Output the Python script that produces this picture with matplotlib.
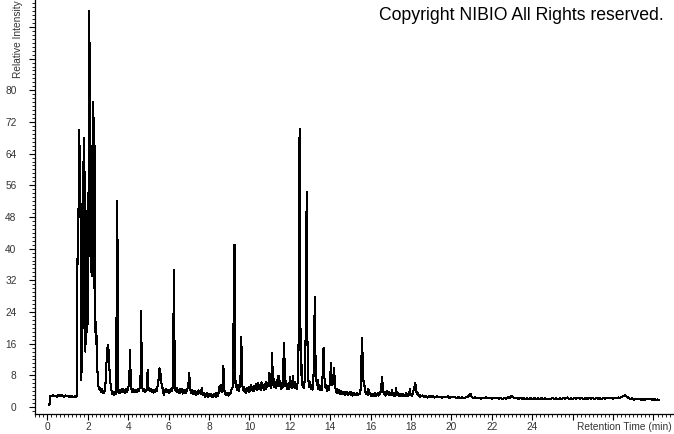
import matplotlib
matplotlib.use("Agg")
import matplotlib.pyplot as plt
from matplotlib.ticker import MultipleLocator

plt.rcParams['font.family'] = ['Liberation Sans', 'DejaVu Sans']

# chromatogram: (retention time [min], relative intensity)
start_run = [
    (0.10, 0.6), (0.12, 2.4), (0.16, 2.9), (0.22, 2.7), (0.28, 3.0), (0.34, 2.8),
    (0.40, 2.9), (0.46, 2.6), (0.52, 3.0), (0.58, 2.8), (0.64, 3.1), (0.70, 2.7),
    (0.76, 2.9), (0.82, 2.6), (0.88, 2.9), (0.94, 2.7), (1.00, 2.8), (1.06, 2.5),
    (1.12, 2.8), (1.18, 2.6), (1.24, 2.7), (1.30, 2.5), (1.36, 2.8), (1.42, 2.6),
    (1.47, 2.8),
]

main_cluster = [
    (1.48, 37.5), (1.51, 36), (1.53, 50), (1.55, 48), (1.58, 70), (1.60, 52),
    (1.62, 66), (1.64, 48), (1.665, 6.8), (1.69, 9), (1.72, 28), (1.75, 20),
    (1.78, 62), (1.80, 45), (1.83, 68), (1.85, 28), (1.88, 14), (1.90, 24),
    (1.93, 49.5), (1.95, 30), (1.98, 19), (2.01, 40), (2.04, 58), (2.06, 100),
    (2.08, 70), (2.09, 92), (2.11, 38), (2.13, 40), (2.15, 34), (2.17, 38),
    (2.19, 33), (2.21, 36), (2.24, 77), (2.26, 40), (2.28, 58), (2.30, 30),
    (2.32, 73), (2.34, 58), (2.36, 57), (2.38, 19), (2.41, 16), (2.44, 18),
    (2.47, 10), (2.50, 6), (2.53, 5.2), (2.57, 4.4), (2.61, 4.9), (2.65, 3.8),
    (2.69, 4.5), (2.73, 3.5), (2.77, 4.1),
]

early_peaks = [
    (2.81, 3.6), (2.85, 4.3), (2.88, 6.5), (2.92, 11), (2.95, 13), (2.98, 15.6),
    (3.01, 13.5), (3.04, 14.5), (3.07, 9.5), (3.10, 7), (3.14, 5.2), (3.18, 4.0),
    (3.22, 3.2), (3.26, 3.9), (3.30, 3.0), (3.34, 3.7), (3.38, 3.3), (3.41, 5),
    (3.43, 40), (3.45, 52), (3.47, 41), (3.49, 6), (3.52, 3.6), (3.56, 4.2),
    (3.60, 3.5), (3.64, 4.4), (3.68, 3.8), (3.72, 4.6), (3.76, 3.9), (3.80, 4.3),
    (3.84, 3.6), (3.88, 4.5), (3.92, 3.7), (3.96, 4.1), (4.00, 4.8), (4.04, 6),
    (4.07, 10), (4.09, 14.4), (4.11, 9), (4.13, 5), (4.17, 4.2), (4.21, 3.8),
    (4.25, 4.6), (4.29, 3.9), (4.33, 4.4), (4.37, 3.7), (4.41, 4.2), (4.45, 3.9),
    (4.49, 4.6), (4.53, 4.0), (4.57, 5), (4.61, 8), (4.63, 24.2), (4.65, 20),
    (4.67, 7), (4.70, 4.8), (4.74, 4.0), (4.78, 4.5), (4.82, 3.8), (4.86, 4.4),
    (4.90, 4.0), (4.93, 5.5), (4.96, 9.3), (4.98, 6), (5.01, 4.2), (5.05, 4.7),
    (5.09, 4.0), (5.13, 4.5), (5.17, 3.8), (5.21, 4.3), (5.25, 3.6), (5.29, 4.4),
    (5.33, 3.9), (5.37, 4.6), (5.41, 4.1), (5.45, 5.2), (5.49, 6.5), (5.52, 7.5),
    (5.55, 9.8), (5.58, 7), (5.61, 8.3), (5.64, 6), (5.68, 5.2), (5.72, 4.2),
    (5.76, 3.0), (5.80, 4.4), (5.84, 3.7), (5.88, 4.5), (5.92, 3.9), (5.96, 4.3),
    (6.00, 3.6), (6.04, 4.4), (6.08, 3.8), (6.12, 4.6), (6.16, 4.0), (6.20, 5),
    (6.23, 12), (6.25, 32), (6.27, 34.6), (6.29, 16), (6.31, 6), (6.34, 4.2),
    (6.38, 3.9), (6.42, 4.8), (6.46, 3.7), (6.50, 4.3), (6.54, 3.5), (6.58, 4.5),
    (6.62, 3.8), (6.66, 4.6), (6.70, 3.4), (6.74, 4.2), (6.78, 3.6), (6.82, 4.4),
    (6.86, 3.5), (6.90, 4.3), (6.94, 4.8), (6.98, 6), (7.02, 8.6), (7.05, 5.5),
    (7.08, 4.2), (7.12, 3.5), (7.16, 4.3), (7.20, 3.2), (7.24, 4.0), (7.28, 3.4),
    (7.32, 4.1), (7.36, 3.1), (7.40, 3.9), (7.44, 3.3), (7.48, 4.2), (7.52, 3.6),
]

mid_peaks = [
    (7.56, 4.0), (7.60, 3.3), (7.64, 4.8), (7.68, 3.5), (7.72, 3.0), (7.76, 3.6),
    (7.80, 2.6), (7.84, 3.4), (7.88, 2.8), (7.92, 3.5), (7.96, 2.5), (8.00, 3.2),
    (8.04, 2.7), (8.08, 3.4), (8.12, 2.6), (8.16, 3.1), (8.20, 2.4), (8.24, 3.3),
    (8.28, 2.7), (8.32, 3.5), (8.36, 2.6), (8.40, 3.2), (8.44, 2.9), (8.48, 3.8),
    (8.52, 5.2), (8.56, 4.1), (8.60, 5.5), (8.64, 3.9), (8.68, 5), (8.71, 10.3),
    (8.74, 6), (8.77, 3.6), (8.81, 3.1), (8.85, 3.6), (8.89, 3.0), (8.93, 3.5),
    (8.97, 2.9), (9.01, 3.6), (9.05, 3.2), (9.09, 4.2), (9.13, 4.6), (9.17, 5),
    (9.20, 11), (9.23, 37), (9.26, 41), (9.28, 20), (9.31, 6), (9.35, 5.2),
    (9.39, 4.3), (9.43, 5.5), (9.47, 4.0), (9.51, 5.0), (9.55, 6), (9.58, 13),
    (9.60, 17.7), (9.62, 9), (9.65, 5.5), (9.68, 4.3),
]

late_peaks = [
    (9.72, 5.0), (9.76, 3.9), (9.80, 4.6), (9.84, 3.6), (9.88, 4.8), (9.92, 4.0),
    (9.96, 5.1), (10.00, 3.8), (10.04, 4.7), (10.08, 5.6), (10.12, 4.2), (10.16, 5.0),
    (10.20, 4.0), (10.24, 5.4), (10.28, 4.5), (10.32, 5.8), (10.36, 4.3), (10.40, 5.2),
    (10.44, 6.0), (10.48, 4.6), (10.52, 5.4), (10.56, 4.4), (10.60, 6.2), (10.64, 4.8),
    (10.68, 5.6), (10.72, 4.2), (10.76, 5.9), (10.80, 4.6), (10.84, 6.4), (10.88, 5.0),
    (10.92, 6.0), (10.96, 5.2), (10.99, 8.6), (11.02, 5.5), (11.06, 4.8), (11.09, 7),
    (11.12, 13.6), (11.14, 10), (11.17, 5.5), (11.20, 7), (11.24, 5.0), (11.28, 6.3),
    (11.32, 4.8), (11.36, 6.8), (11.40, 5.2), (11.44, 7.9), (11.47, 5.6), (11.51, 6.5),
    (11.55, 4.6), (11.59, 6.0), (11.63, 4.7), (11.66, 6.5), (11.69, 13), (11.72, 16.2),
    (11.75, 8), (11.78, 5.2), (11.82, 6.6), (11.86, 4.6), (11.90, 5.8), (11.94, 4.5),
    (11.98, 6.0), (12.02, 7.6), (12.05, 5.0), (12.09, 6.2), (12.13, 4.8), (12.16, 7.8),
    (12.19, 5.5), (12.23, 6.4), (12.27, 4.7), (12.31, 5.8), (12.35, 4.6), (12.39, 6.5),
    (12.42, 9), (12.45, 31), (12.48, 70.2), (12.50, 68), (12.52, 25), (12.54, 8),
    (12.57, 11), (12.60, 9), (12.63, 5.0), (12.67, 6.0), (12.71, 4.7), (12.74, 8),
    (12.77, 14.9), (12.80, 25), (12.83, 54.3), (12.85, 45), (12.87, 18), (12.89, 7),
    (12.93, 6.5), (12.97, 5.0), (13.00, 6.2), (13.04, 4.6), (13.08, 5.6), (13.12, 4.4),
    (13.16, 6.5), (13.20, 12), (13.23, 27.8), (13.25, 27), (13.27, 12), (13.30, 8),
    (13.33, 5.5), (13.37, 6.8), (13.41, 4.5), (13.45, 5.6), (13.49, 4.2), (13.53, 5.4),
    (13.57, 4.3), (13.61, 6), (13.64, 13), (13.67, 14.9), (13.70, 8), (13.73, 6.5),
    (13.77, 4.8), (13.81, 5.6), (13.85, 4.0), (13.89, 5.2), (13.93, 4.2), (13.97, 5.8),
    (14.01, 9), (14.04, 11), (14.07, 7), (14.10, 5.5), (14.14, 6.5), (14.18, 9.8),
    (14.21, 8), (14.24, 5), (14.28, 4.4), (14.32, 3.6), (14.36, 4.5), (14.40, 3.5),
]

after_peaks = [
    (14.44, 4.2), (14.48, 3.3), (14.52, 4.0), (14.56, 3.4), (14.60, 3.9), (14.64, 3.2),
    (14.68, 3.8), (14.72, 3.1), (14.76, 3.7), (14.80, 3.3), (14.84, 3.9), (14.88, 3.0),
    (14.92, 3.6), (14.96, 3.2), (15.00, 3.8), (15.04, 3.1), (15.08, 3.5), (15.12, 2.9),
    (15.16, 3.6), (15.20, 3.0), (15.24, 3.4), (15.28, 3.1), (15.32, 3.6), (15.36, 3.0),
    (15.40, 3.4), (15.44, 3.2), (15.48, 3.8), (15.52, 5), (15.55, 13.6), (15.58, 17.4),
    (15.60, 12), (15.62, 8), (15.65, 6.3), (15.69, 5.5), (15.73, 4.0), (15.77, 3.3),
    (15.81, 3.8), (15.85, 3.0), (15.89, 4.6), (15.93, 3.2), (15.97, 3.6), (16.01, 2.8),
    (16.05, 3.4), (16.09, 2.7), (16.13, 3.3), (16.17, 2.9), (16.21, 3.5), (16.25, 2.8),
    (16.29, 3.4), (16.33, 3.0), (16.37, 3.6), (16.41, 2.9), (16.45, 3.3), (16.49, 3.8),
    (16.53, 5.5), (16.56, 7.6), (16.59, 6), (16.62, 4.2), (16.66, 3.2), (16.70, 3.8),
    (16.74, 2.9), (16.78, 3.4), (16.82, 4.0), (16.86, 3.2), (16.90, 3.7), (16.94, 2.9),
    (16.98, 3.6), (17.02, 3.0), (17.06, 4.2), (17.10, 3.1), (17.14, 3.5), (17.18, 2.8),
    (17.22, 3.4), (17.26, 4.8), (17.30, 3.0), (17.34, 3.6), (17.38, 2.8), (17.42, 3.3),
    (17.46, 2.7), (17.50, 3.2), (17.54, 2.8), (17.58, 3.4), (17.62, 2.7), (17.66, 3.1),
    (17.70, 2.8), (17.74, 3.5), (17.78, 2.9), (17.82, 3.2), (17.86, 2.7), (17.90, 3.3),
    (17.94, 4.5), (17.97, 3.0), (18.01, 3.4), (18.05, 2.8), (18.09, 3.6), (18.13, 4.4),
    (18.17, 5.2), (18.20, 6.0), (18.23, 5.5), (18.26, 4.0), (18.30, 3.2), (18.34, 3.6),
    (18.38, 2.7), (18.42, 3.1),
]

tail_run = [
    (18.46, 2.6), (18.55, 2.9), (18.64, 2.5), (18.73, 2.8), (18.82, 2.4), (18.91, 2.7),
    (19.00, 2.5), (19.09, 2.8), (19.18, 2.4), (19.27, 2.7), (19.36, 2.4), (19.45, 2.6),
    (19.54, 2.3), (19.63, 2.6), (19.72, 2.4), (19.81, 2.7), (19.90, 2.3), (19.99, 2.6),
    (20.08, 2.4), (20.17, 2.5), (20.26, 2.2), (20.35, 2.5), (20.44, 2.3), (20.53, 2.5),
    (20.62, 2.2), (20.71, 2.4), (20.80, 2.5), (20.88, 3.0), (20.94, 3.3), (21.00, 2.6),
    (21.08, 2.3), (21.17, 2.5), (21.26, 2.2), (21.35, 2.4), (21.44, 2.1), (21.53, 2.4),
    (21.62, 2.2), (21.71, 2.5), (21.80, 2.2), (21.89, 2.4), (21.98, 2.1), (22.07, 2.3),
    (22.16, 2.2), (22.25, 2.4), (22.34, 2.1), (22.43, 2.3), (22.52, 2.0), (22.61, 2.3),
    (22.70, 2.1), (22.79, 2.4), (22.88, 2.3), (22.96, 2.7), (23.04, 2.6), (23.12, 2.2),
    (23.21, 2.4), (23.30, 2.0), (23.39, 2.3), (23.48, 2.1), (23.57, 2.2), (23.66, 1.9),
    (23.75, 2.2), (23.84, 2.0), (23.93, 2.3), (24.02, 2.0), (24.11, 2.2), (24.20, 1.9),
    (24.29, 2.2), (24.38, 2.0), (24.47, 2.3), (24.56, 2.0), (24.65, 2.2), (24.74, 1.9),
    (24.83, 2.1), (24.92, 2.0), (25.01, 2.3), (25.10, 2.0), (25.19, 2.2), (25.28, 1.9),
    (25.37, 2.2), (25.46, 2.0), (25.55, 2.3), (25.64, 2.1), (25.73, 2.4), (25.82, 2.0),
    (25.91, 2.2), (26.00, 2.0), (26.09, 2.3), (26.18, 2.1), (26.27, 2.4), (26.36, 2.1),
    (26.45, 2.3), (26.54, 2.0), (26.63, 2.2), (26.72, 2.0), (26.81, 2.3), (26.90, 2.1),
    (26.99, 2.2), (27.08, 2.0), (27.17, 2.3), (27.26, 2.1), (27.35, 2.2), (27.44, 2.0),
    (27.53, 2.3), (27.62, 2.1), (27.71, 2.4), (27.80, 2.2), (27.89, 2.4), (27.98, 2.1),
    (28.07, 2.3), (28.16, 2.2), (28.25, 2.4), (28.34, 2.3), (28.43, 2.6), (28.52, 2.8),
    (28.60, 3.0), (28.68, 2.6), (28.76, 2.3), (28.85, 2.0), (28.94, 2.2), (29.03, 1.8),
    (29.12, 2.1), (29.21, 1.9), (29.30, 2.1), (29.39, 1.8), (29.48, 2.0), (29.57, 1.8),
    (29.66, 2.1), (29.75, 1.9), (29.84, 2.0), (29.93, 1.8), (30.02, 2.0), (30.11, 1.8),
    (30.20, 1.9), (30.27, 1.8),
]

x_ticks = list(range(0, 31, 2))
x_ticklabels = [str(v) if v <= 24 else '' for v in x_ticks]
y_ticks = list(range(0, 97, 8))
y_ticklabels = [str(v) if v <= 80 else '' for v in y_ticks]

trace = start_run + main_cluster + early_peaks + mid_peaks + late_peaks + after_peaks + tail_run
rt = [p[0] for p in trace]
intensity = [p[1] for p in trace]

fig = plt.figure(figsize=(6.74, 4.34), dpi=100)
ax = fig.add_axes([34.5 / 674, 20 / 434, 640 / 674, 414 / 434])

ax.plot(rt, intensity, color='black', lw=0.75, antialiased=False)
ax.set_xlim(-0.64, 31.04)
ax.set_ylim(-1.77, 102.8)

for s in ['top', 'right']:
    ax.spines[s].set_visible(False)
for s in ['left', 'bottom']:
    ax.spines[s].set_linewidth(0.9)

ax.set_xticks(x_ticks)
ax.set_xticklabels(x_ticklabels)
ax.set_yticks(y_ticks)
ax.set_yticklabels(y_ticklabels)
ax.xaxis.set_minor_locator(MultipleLocator(0.2))
ax.yaxis.set_minor_locator(MultipleLocator(1))
ax.tick_params(which='major', length=4, width=0.8, direction='out',
               labelsize=7.3, labelcolor='#333333')
ax.tick_params(which='minor', length=2.5, width=0.6, direction='out')
ax.tick_params(axis='x', which='major', pad=1.5)
ax.tick_params(axis='y', which='major', pad=9)

fig.text(672 / 674, 1 - 427 / 434, 'Retention Time (min)', ha='right', va='center',
         fontsize=7.3, color='#333333')
fig.text(18 / 674, 1 - 78 / 434, 'Relative Intensity', rotation=90, ha='center',
         va='bottom', fontsize=7.3, color='#333333')
fig.text(664 / 674, 1 - 20 / 434, 'Copyright NIBIO All Rights reserved.', ha='right',
         va='baseline', fontsize=12.7, color='black')

fig.savefig('out.png', dpi=100)
